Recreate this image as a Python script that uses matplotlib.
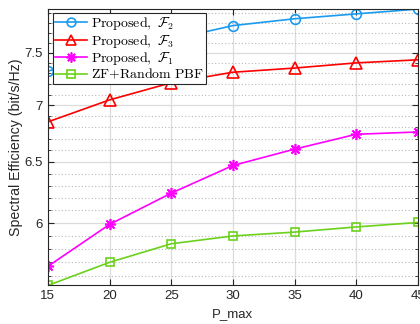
import numpy as np
import matplotlib
matplotlib.use('Agg')
import matplotlib.pyplot as plt
from matplotlib.ticker import FixedLocator, NullFormatter, FixedFormatter

plt.rcParams['font.family'] = ['Liberation Sans', 'DejaVu Sans']
plt.rcParams['mathtext.fontset'] = 'cm'

p_max = [15, 20, 25, 30, 35, 40, 45]
se_f2 = [7.32, 7.50, 7.63, 7.77, 7.84, 7.89, 7.94]
se_f3 = [6.85, 7.05, 7.21, 7.31, 7.35, 7.40, 7.43]
se_f1 = [5.67, 5.99, 6.24, 6.47, 6.61, 6.74, 6.76]
se_zf = [5.53, 5.70, 5.84, 5.90, 5.93, 5.97, 6.005]

labels = [r'$\mathrm{Proposed,}\ \mathcal{F}_2$',
          r'$\mathrm{Proposed,}\ \mathcal{F}_3$',
          r'$\mathrm{Proposed,}\ \mathcal{F}_1$',
          r'$\mathrm{ZF{+}Random\ PBF}$']

fig = plt.figure(figsize=(4.2, 3.24), dpi=100)
ax = fig.add_axes([0.114, 0.119, 0.881, 0.853])

lw = 1.2
ax.plot(p_max, se_f2, '-o', color='#1a9bf0', lw=lw, ms=7, mfc='none', mew=1.2, label=labels[0])
ax.plot(p_max, se_f3, '-^', color='#ff0000', lw=lw, ms=8, mfc='none', mew=1.2, label=labels[1])
ax.plot(p_max, se_f1, '-', marker=(8, 2, 0), color='#ff00ff', lw=lw, ms=8, mew=1.2, label=labels[2])
ax.plot(p_max, se_zf, '-s', color='#6cd11c', lw=lw, ms=6, mfc='none', mew=1.2, label=labels[3])

ax.set_yscale('log')
ax.set_xlim(15, 45)
all_vals = se_f2 + se_f3 + se_f1 + se_zf
ax.set_ylim(min(all_vals), max(all_vals))

ax.set_xticks(p_max)
major = [6, 6.5, 7, 7.5]
ax.yaxis.set_major_locator(FixedLocator(major))
ax.yaxis.set_major_formatter(FixedFormatter(['6', '6.5', '7', '7.5']))
ax.yaxis.set_minor_locator(FixedLocator(np.arange(5.5, 8.0, 0.1)))
ax.yaxis.set_minor_formatter(NullFormatter())

ax.grid(True, which='major', color='#dcdcdc', lw=0.9, ls='-')
ax.grid(True, which='minor', axis='y', color='#b8b8b8', lw=0.8, ls=(0, (1, 2)))
ax.set_axisbelow(True)

ax.tick_params(which='both', direction='in', top=True, right=True, labelsize=9.5, colors='#262626')
ax.tick_params(which='major', length=4, width=0.8)
ax.tick_params(which='minor', length=2.5, width=0.6)
for s in ax.spines.values():
    s.set_color('#262626')
    s.set_linewidth(0.8)

ax.set_xlabel('P_max', fontsize=9.5, color='#262626', labelpad=4)
ax.set_ylabel('Spectral Efficiency (bit/s/Hz)', fontsize=10.2, color='#262626', labelpad=1)

leg = ax.legend(loc='upper left', bbox_to_anchor=(0.005, 0.995), fontsize=10,
                frameon=True, fancybox=False, framealpha=1, edgecolor='#262626',
                borderpad=0.15, labelspacing=0.02, handlelength=2.3, handletextpad=0.3,
                borderaxespad=0.2, markerscale=0.9)
leg.get_frame().set_linewidth(0.8)

fig.savefig('out.png', dpi=100)
